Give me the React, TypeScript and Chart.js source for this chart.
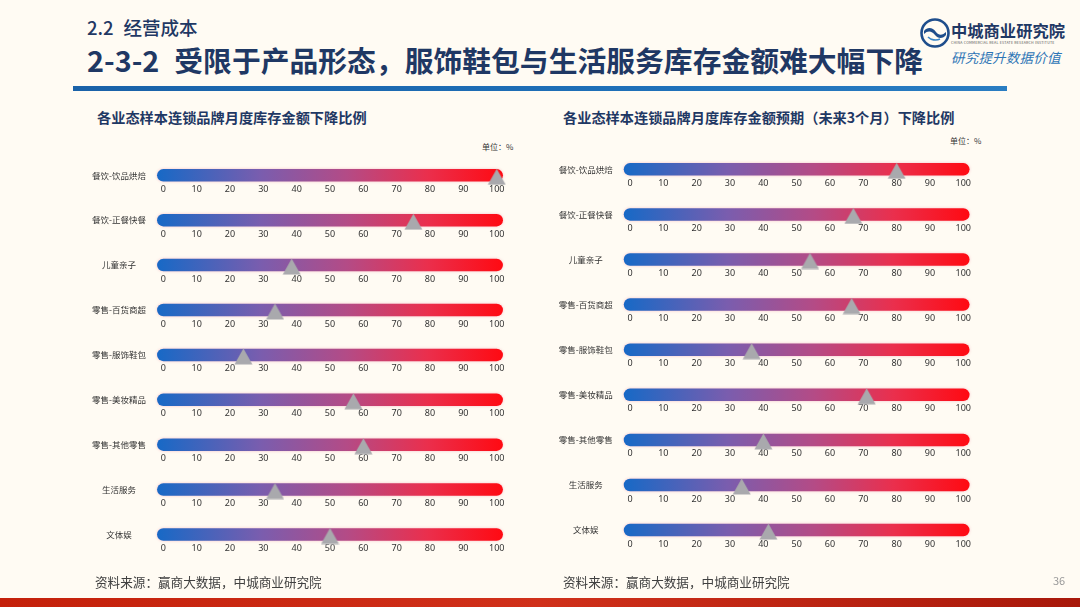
import React, { useEffect, useRef } from 'react';
import { Chart, registerables } from 'chart.js';

Chart.register(...registerables);

// ---------------- data ----------------
const CATEGORIES = [
  '餐饮-饮品烘焙',
  '餐饮-正餐快餐',
  '儿童亲子',
  '零售-百货商超',
  '零售-服饰鞋包',
  '零售-美妆精品',
  '零售-其他零售',
  '生活服务',
  '文体娱',
];
// 月度库存金额下降比例 (%)
const CURRENT_DECLINE = [100, 75, 38.5, 33.5, 24, 57, 60, 33.5, 50];
// 未来3个月预期下降比例 (%)
const EXPECTED_DECLINE = [80, 67, 54, 66.5, 36.5, 71, 40, 33.5, 41.5];
const TICKS = [0, 10, 20, 30, 40, 50, 60, 70, 80, 90, 100];
const AXIS_MIN = TICKS[0];
const AXIS_MAX = TICKS[TICKS.length - 1];

const LEFT_TITLE = '各业态样本连锁品牌月度库存金额下降比例';
const RIGHT_TITLE = '各业态样本连锁品牌月度库存金额预期（未来3个月）下降比例';
const SOURCE = '资料来源：赢商大数据，中城商业研究院';

// ---------------- styles / layout ----------------
const BG = '#FFFBF3';
const NAVY = '#1F3864';
const TRACK_WIDTH = 12.5;
const GRADIENT_STOPS: [number, string][] = [
  [0, '#1769C6'],
  [0.3, '#7A5DAE'],
  [0.55, '#B44B86'],
  [0.78, '#EA2F4D'],
  [1, '#FF0A12'],
];

type PanelLayout = {
  left: number;
  axisLeft: number;
  axisRight: number;
  firstRow: number;
  step: number;
};

const LEFT_LAYOUT: PanelLayout = { left: 80, axisLeft: 163.3, axisRight: 496.7, firstRow: 175.3, step: 44.9 };
const RIGHT_LAYOUT: PanelLayout = { left: 547, axisLeft: 630, axisRight: 963.3, firstRow: 169.3, step: 45.1 };

function makeMarker(): HTMLCanvasElement {
  const c = document.createElement('canvas');
  const w = 19;
  const h = 20;
  c.width = w;
  c.height = h;
  const ctx = c.getContext('2d')!;
  ctx.fillStyle = '#A9A9AD';
  ctx.beginPath();
  ctx.moveTo(w / 2, 3.5);
  ctx.lineTo(w - 0.5, 19.5);
  ctx.lineTo(0.5, 19.5);
  ctx.closePath();
  ctx.fill();
  return c;
}

const glowPlugin = {
  id: 'trackGlow',
  beforeDatasetDraw(chart: any, args: any) {
    const ds = chart.data.datasets[args.index];
    if (ds && ds._track) {
      chart.ctx.save();
      chart.ctx.shadowColor = 'rgba(235,120,150,0.45)';
      chart.ctx.shadowBlur = 3;
    }
  },
  afterDatasetDraw(chart: any, args: any) {
    const ds = chart.data.datasets[args.index];
    if (ds && ds._track) chart.ctx.restore();
  },
};

function trackGradient(ctx: any) {
  const chart = ctx.chart;
  if (!chart.chartArea) return '#7A5DAE';
  const xs = chart.scales.x;
  const x0 = xs.getPixelForValue(AXIS_MIN) - TRACK_WIDTH / 2;
  const x1 = xs.getPixelForValue(AXIS_MAX) + TRACK_WIDTH / 2;
  const g = chart.ctx.createLinearGradient(x0, 0, x1, 0);
  GRADIENT_STOPS.forEach(([o, c]) => g.addColorStop(o, c));
  return g;
}

function Panel({ values, layout }: { values: number[]; layout: PanelLayout }) {
  const ref = useRef<HTMLCanvasElement | null>(null);

  const PAD_V = 30;
  const chartTop = layout.firstRow - layout.step / 2;
  const chartHeight = layout.step * CATEGORIES.length;
  const containerTop = Math.floor(chartTop) - PAD_V;
  const containerBottom = Math.ceil(chartTop + chartHeight) + PAD_V;
  const containerRight = Math.ceil(layout.axisRight) + 24;
  const width = containerRight - layout.left;
  const height = containerBottom - containerTop;
  const yAxisWidth = layout.axisLeft - layout.left;

  useEffect(() => {
    if (!ref.current) return;
    const marker = makeMarker();
    const rowScales: Record<string, any> = {};
    CATEGORIES.forEach((_, i) => {
      rowScales['row' + i] = {
        axis: 'x',
        type: 'linear',
        position: { y: i },
        min: AXIS_MIN,
        max: AXIS_MAX,
        afterBuildTicks: (s: any) => {
          s.ticks = TICKS.map((v) => ({ value: v }));
        },
        grid: { display: false, drawTicks: false },
        border: { display: false },
        ticks: {
          padding: 8.6,
          color: '#333333',
          autoSkip: false,
          maxRotation: 0,
          font: { family: "'Noto Sans', sans-serif", size: 9 },
        },
      };
    });

    const trackDatasets = CATEGORIES.map((cat) => ({
      type: 'line',
      _track: true,
      data: [
        { x: AXIS_MIN, y: cat },
        { x: AXIS_MAX, y: cat },
      ],
      borderColor: trackGradient,
      borderWidth: TRACK_WIDTH,
      borderCapStyle: 'round',
      pointRadius: 0,
      pointHoverRadius: 0,
      clip: false,
      order: 2,
    }));

    const markerDataset = {
      type: 'scatter',
      data: values.map((v, i) => ({ x: v, y: CATEGORIES[i] })),
      pointStyle: marker,
      pointRadius: 5,
      pointHoverRadius: 5,
      clip: false,
      order: 1,
    };

    const chart = new Chart(ref.current, {
      type: 'line',
      data: { datasets: [markerDataset, ...trackDatasets] as any },
      plugins: [glowPlugin],
      options: {
        animation: false,
        responsive: true,
        maintainAspectRatio: false,
        events: [],
        layout: {
          padding: {
            left: 0,
            top: chartTop - containerTop,
            bottom: containerBottom - (chartTop + chartHeight),
            right: containerRight - layout.axisRight,
          },
        },
        plugins: { legend: { display: false }, tooltip: { enabled: false } },
        scales: {
          x: { type: 'linear', min: AXIS_MIN, max: AXIS_MAX, display: false },
          y: {
            type: 'category',
            labels: CATEGORIES,
            offset: true,
            afterFit: (s: any) => {
              s.width = yAxisWidth;
            },
            grid: { display: false, drawTicks: false },
            border: { display: false },
            ticks: {
              crossAlign: 'center',
              padding: 17.3,
              color: '#333333',
              font: { family: "'Noto Sans CJK SC', sans-serif", size: 8.5 },
            },
          },
          ...rowScales,
        },
      } as any,
    });
    return () => chart.destroy();
  }, []);

  return (
    <div style={{ position: 'absolute', left: layout.left, top: containerTop, width, height }}>
      <canvas ref={ref} />
    </div>
  );
}

const abs = (o: React.CSSProperties): React.CSSProperties => ({ position: 'absolute', whiteSpace: 'nowrap', lineHeight: 1, ...o });

export default function App() {
  useEffect(() => {
    document.body.style.margin = '0';
    document.body.style.background = BG;
  }, []);
  return (
    <div
      style={{
        position: 'absolute',
        left: 0,
        top: 0,
        width: 1080,
        height: 607,
        overflow: 'hidden',
        background: BG,
        fontFamily: "'Noto Sans CJK SC', 'Noto Sans', sans-serif",
      }}
    >
      {/* header */}
      <div style={abs({ left: 87, top: 18, fontSize: 18.5, color: NAVY, fontWeight: 500 })}>
        2.2<span style={{ marginLeft: 10 }}>经营成本</span>
      </div>
      <div style={abs({ left: 87, top: 46, fontSize: 28.8, color: NAVY, fontWeight: 700 })}>
        2-3-2<span style={{ marginLeft: 15 }}>受限于产品形态，服饰鞋包与生活服务库存金额难大幅下降</span>
      </div>
      <div style={abs({ left: 73, top: 86, width: 934, height: 4.5, background: 'linear-gradient(90deg,#1A62A8,#1F70B8 60%,#2A7DC2)' })} />

      {/* logo */}
      <svg style={{ position: 'absolute', left: 918, top: 16 }} width={34} height={34} viewBox="0 0 34 34">
        <circle cx={17} cy={17} r={13.5} fill="none" stroke="#1F4E8C" strokeWidth={2.6} />
        <path d="M6 15 C10 10, 15 12, 18 16 C21 20, 25 19, 28 16 L28 19 C25 23, 20 23, 17 19 C14 15, 10 14, 6 18 Z" fill="#1F4E8C" />
        <path d="M10 21 C13 24, 18 25, 22 23" fill="none" stroke="#3A86C8" strokeWidth={1.6} />
      </svg>
      <div style={abs({ left: 951, top: 22, fontSize: 16.3, color: '#1F3864', fontWeight: 700, fontFamily: "'Noto Sans CJK SC', serif" })}>中城商业研究院</div>
      <div style={abs({ left: 951, top: 41, fontSize: 3.6, color: '#555', letterSpacing: 0.2 })}>CHINA COMMERCIAL REAL ESTATE RESEARCH INSTITUTE</div>
      <div style={abs({ left: 951, top: 51, fontSize: 13.5, color: '#2E75B6', fontStyle: 'italic', letterSpacing: 0.2 })}>研究提升数据价值</div>

      {/* panel titles */}
      <div style={abs({ left: 97, top: 110, fontSize: 14.2, color: NAVY, fontWeight: 700 })}>{LEFT_TITLE}</div>
      <div style={abs({ left: 563, top: 110, fontSize: 14.2, color: NAVY, fontWeight: 700 })}>{RIGHT_TITLE}</div>
      <div style={abs({ left: 482, top: 143, fontSize: 8, color: '#333' })}>单位：%</div>
      <div style={abs({ left: 950, top: 137, fontSize: 8, color: '#333' })}>单位：%</div>

      <Panel values={CURRENT_DECLINE} layout={LEFT_LAYOUT} />
      <Panel values={EXPECTED_DECLINE} layout={RIGHT_LAYOUT} />

      {/* footer */}
      <div style={abs({ left: 95, top: 576, fontSize: 12.6, color: '#404040' })}>{SOURCE}</div>
      <div style={abs({ left: 563, top: 576, fontSize: 12.6, color: '#404040' })}>{SOURCE}</div>
      <div style={abs({ left: 1053, top: 575, fontSize: 11, color: '#999' })}>36</div>
      <div style={abs({ left: 0, top: 598, width: 1080, height: 9, background: 'linear-gradient(90deg,#C4200A,#D0301A 50%,#A8180A)' })} />
    </div>
  );
}
